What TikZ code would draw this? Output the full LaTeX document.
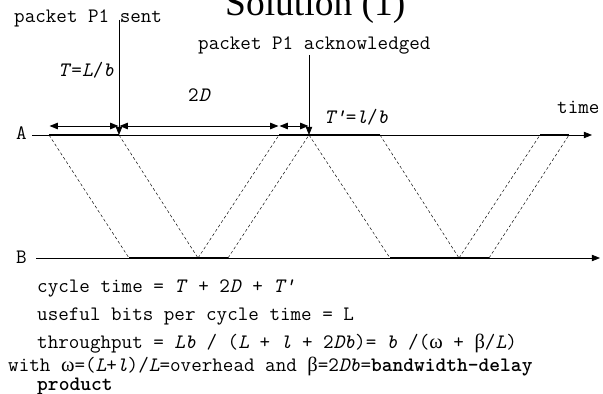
\documentclass[tikz,border=0pt]{standalone}
\usepackage{fontspec}
\setmainfont{Liberation Serif}
\usetikzlibrary{arrows.meta}

\newcommand\va[1]{\textit{#1}}
\newcommand\gk[1]{{\rmfamily #1}}

\begin{document}
\begin{tikzpicture}[
  x=0.03cm, y=-0.03cm,
  >={Triangle[length=7pt,width=5.5pt]},
  lbl/.style={font=\fontsize{17.5}{20}\selectfont\ttfamily, inner sep=0pt, anchor=base west},
  axis/.style={->, line width=0.6pt},
  busy/.style={line width=1.5pt},
  sig/.style={line width=0.4pt, dash pattern=on 2.5pt off 2pt},
  span/.style={<->, line width=0.8pt, shorten <=0.5pt, shorten >=0.5pt},
  ptr/.style={->, line width=0.6pt}
]
\useasboundingbox (0,0) rectangle (603,394);

%% Title (cut at the top)
\node[font=\fontsize{32}{36}\selectfont, inner sep=0pt, anchor=base west] (title) at (225,16) {Solution (1)};

%% Time lines of A and B
\coordinate (A0) at (32,135);  \coordinate (A9) at (592,135);
\coordinate (B0) at (36,258);  \coordinate (B9) at (600,258);
\node[lbl] (labA) at (16,140) {A};
\node[lbl] (labB) at (16,263) {B};
\draw[axis] (A0) -- (A9);
\draw[axis] (B0) -- (B9);
\node[lbl] (time) at (557,114) {time};

%% Events on A
\coordinate (a1) at (49,135);
\coordinate (a2) at (119,135);
\coordinate (a3) at (279,135);
\coordinate (a4) at (309,135);
\coordinate (a5) at (380,135);
\coordinate (a6) at (540,135);
\coordinate (a7) at (569,135);
%% Events on B
\coordinate (b1) at (129,258);
\coordinate (b2) at (198,258);
\coordinate (b3) at (228,258);
\coordinate (b4) at (390,258);
\coordinate (b5) at (459,258);
\coordinate (b6) at (489,258);

%% Busy periods
\draw[busy] (a1) -- (a2);
\draw[busy] (a3) -- (a5);
\draw[busy] (a6) -- (a7);
\draw[busy] (b1) -- (b3);
\draw[busy] (b4) -- (b6);

%% Propagation of packets and acks
\draw[sig] (a1) -- (b1);
\draw[sig] (a2) -- (b2);
\draw[sig] (b2) -- (a3);
\draw[sig] (b3) -- (a4);
\draw[sig] (a4) -- (b4);
\draw[sig] (a5) -- (b5);
\draw[sig] (b5) -- (a6);
\draw[sig] (b6) -- (a7);

%% Sent / acknowledged markers
\node[lbl] (sent) at (14,23) {packet P1 sent};
\node[lbl] (ack)  at (198,50) {packet P1 acknowledged};
\coordinate (sentTop) at (119,20);
\coordinate (ackTop)  at (309,55);
\draw[ptr] (sentTop) -- (a2);
\draw[ptr] (ackTop) -- (a4);

%% Intervals
\coordinate (dim) at (0,126);
\draw[span] (a1 |- dim) -- (a2 |- dim);
\draw[span] (a2 |- dim) -- (a3 |- dim);
\draw[span] (a3 |- dim) -- (a4 |- dim);
\node[lbl] (tsend) at (58,77)  {\va{T}=\va{L}/\va{b}};
\node[lbl] (rtt)   at (188,102) {2\va{D}};
\node[lbl] (tack)  at (324,124) {\va{T'}=\va{l}/\va{b}};

%% Results
\node[lbl] (cyc)  at (37,292) {cycle time = \va{T} + 2\va{D} + \va{T'}};
\node[lbl] (bits) at (37,320) {useful bits per cycle time = L};
\node[lbl] (thr)  at (37,348) {throughput = \va{Lb} / (\va{L} + \va{l} + 2\va{Db})= \va{b} /(\gk{ω} + \gk{β}/\va{L})};
\node[lbl] (with) at (8,371)  {with \gk{ω}=(\va{L}+\va{l})/\va{L}=overhead and \gk{β}=2\va{Db}=\textbf{bandwidth-delay}};
\node[lbl] (prod) at (37,390) {\textbf{product}};

\end{tikzpicture}
\end{document}
